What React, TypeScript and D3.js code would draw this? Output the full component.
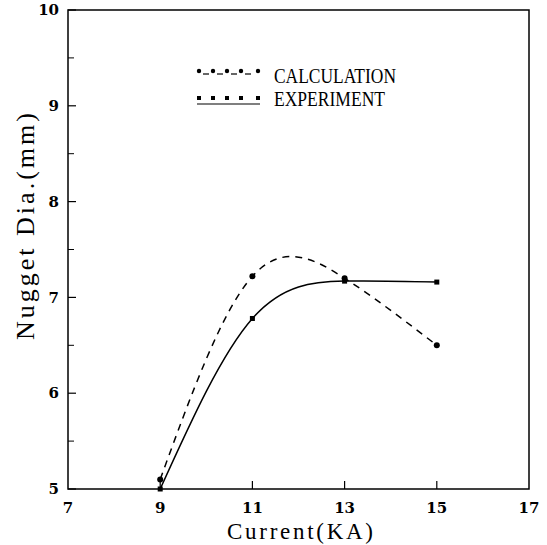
import React from "react";
import * as d3 from "d3";

const currents = [9, 11, 13, 15];
const calculation = [5.1, 7.22, 7.2, 6.5];
const experiment = [5.0, 6.78, 7.17, 7.16];
const xTicks = [7, 9, 11, 13, 15, 17];
const yTicks = [5, 6, 7, 8, 9, 10];
const yMinor = [5.5, 6.5, 7.5, 8.5, 9.5];
const legendLabels = ["CALCULATION", "EXPERIMENT"];

const W = 547, H = 545;
const L = 68, R = 529, T = 10, B = 489;

export default function App() {
  const x = d3.scaleLinear().domain([7, 17]).range([L, R]);
  const y = d3.scaleLinear().domain([5, 10]).range([B, T]);
  const line = d3
    .line<number>()
    .x((_, i) => x(currents[i]))
    .y((d) => y(d))
    .curve(d3.curveNatural);
  const serif = "'DejaVu Serif', 'Liberation Serif', serif";
  const times = "'Liberation Serif', 'DejaVu Serif', serif";
  const legendDotsX = [199, 213, 227, 241, 258];
  return (
    <svg
      width={W}
      height={H}
      style={{ position: "absolute", left: 0, top: 0, background: "#fff" }}
    >
      <rect x={L} y={T} width={R - L} height={B - T} fill="none" stroke="#000" strokeWidth={1.5} />
      {yTicks.map((t) => (
        <g key={"y" + t}>
          <line x1={L} x2={L + 8} y1={y(t)} y2={y(t)} stroke="#000" strokeWidth={1.2} />
          <text x={L - 9} y={y(t)} dy="0.35em" textAnchor="end" fontFamily={serif} fontSize={15} fontWeight="bold">
            {t}
          </text>
        </g>
      ))}
      {yMinor.map((t) => (
        <line key={"ym" + t} x1={L} x2={L + 6} y1={y(t)} y2={y(t)} stroke="#000" strokeWidth={1} />
      ))}
      {xTicks.map((t) => (
        <g key={"x" + t}>
          {t > 7 && t < 17 && (
            <line x1={x(t)} x2={x(t)} y1={B} y2={B - 8} stroke="#000" strokeWidth={1.2} />
          )}
          <text x={x(t)} y={B + 24} textAnchor="middle" fontFamily={serif} fontSize={15} fontWeight="bold">
            {t}
          </text>
        </g>
      ))}
      <text
        x={227}
        y={539}
        fontFamily={times}
        fontSize={23}
        textLength={146}
        lengthAdjust="spacing"
      >
        Current(KA)
      </text>
      <text
        transform={`translate(34, 340) rotate(-90)`}
        fontFamily={times}
        fontSize={26}
        textLength={227}
        lengthAdjust="spacing"
      >
        Nugget Dia.(mm)
      </text>
      <path d={line(calculation) || ""} fill="none" stroke="#000" strokeWidth={1.5} strokeDasharray="7,6" />
      <path d={line(experiment) || ""} fill="none" stroke="#000" strokeWidth={1.5} />
      {calculation.map((v, i) => (
        <circle key={"c" + i} cx={x(currents[i])} cy={y(v)} r={3} fill="#000" />
      ))}
      {experiment.map((v, i) => (
        <rect key={"e" + i} x={x(currents[i]) - 2.5} y={y(v) - 2.5} width={5} height={5} fill="#000" />
      ))}
      <g>
        {legendDotsX.map((lx, i) => (
          <circle key={"lc" + i} cx={lx} cy={71} r={2.2} fill="#000" />
        ))}
        {legendDotsX.slice(0, -1).map((lx, i) => (
          <line key={"ld" + i} x1={lx + 4} x2={lx + 10} y1={74} y2={74} stroke="#000" strokeWidth={1.2} />
        ))}
        <text x={274} y={83} fontFamily={times} fontSize={20} textLength={122} lengthAdjust="spacingAndGlyphs">
          {legendLabels[0]}
        </text>
        {legendDotsX.map((lx, i) => (
          <rect key={"le" + i} x={lx - 2} y={96} width={4} height={4} fill="#000" />
        ))}
        <line x1={197} x2={260} y1={104} y2={104} stroke="#000" strokeWidth={1.2} />
        <text x={274} y={106} fontFamily={times} fontSize={20} textLength={111} lengthAdjust="spacingAndGlyphs">
          {legendLabels[1]}
        </text>
      </g>
    </svg>
  );
}
